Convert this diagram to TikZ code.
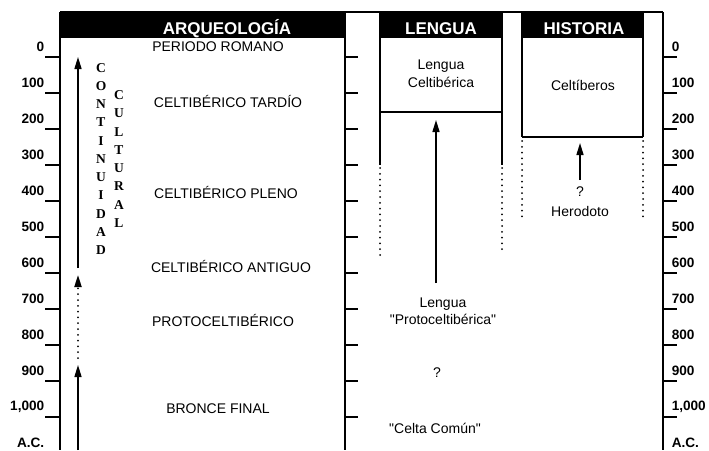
\documentclass[tikz,border=0pt]{standalone}
\usepackage{fontspec}
\setmainfont{Liberation Sans}
\newfontfamily\timesbold{Liberation Serif}
\usetikzlibrary{arrows.meta,positioning}

\newcommand\straightq{{\XeTeXglyph\XeTeXglyphindex "quotedbl"\relax}}

\begin{document}
\begin{tikzpicture}[x=1pt,y=-1pt,line width=1.5pt,>={Triangle[length=12pt,width=7pt]},
    lbl/.style={font=\fontsize{14}{17.5}\selectfont,inner sep=0pt,align=center},
    yearlbl/.style={font=\bfseries\fontsize{13.6}{16}\selectfont,inner sep=0pt},
    headlbl/.style={text=white,font=\bfseries\fontsize{17}{19}\selectfont,anchor=base},
    vert/.style={font=\timesbold\bfseries\fontsize{13.5}{18.25}\selectfont,align=center,inner sep=0pt},
    dots/.style={line width=2pt,dash pattern=on 0pt off 5.8pt,line cap=round}]
                \useasboundingbox (0,0) rectangle (709,450);

                % cabeceras
                \fill (60,12) rectangle (345,38);
                \fill (380,12) rectangle (502,38);
                \fill (522,12) rectangle (643,38);
                \node[headlbl] (arq) at (227,34) {ARQUEOLOGÍA};
                \node[headlbl] (len) at (441,34) {LENGUA};
                \node[headlbl] (his) at (584,34) {HISTORIA};

                % marco y ejes
                \draw (60,12) -- (663,12);
                \draw (60,12) -- (60,450);
                \draw (345,12) -- (345,450);
                \draw (663,12) -- (663,450);
                \draw (380,12) -- (380,165) (502,12) -- (502,165) (380,112) -- (502,112);
                \draw (522,12) -- (522,137) (643,12) -- (643,137) (522,137) -- (643,137);
                \draw[dots] (380,168) -- (380,258) (502,168) -- (502,252);
                \draw[dots] (522,141) -- (522,222) (643,141) -- (643,222);

                \foreach \i in {0,...,10} {
                    \draw (45,{57+36*\i}) -- (60,{57+36*\i});
                    \draw (345,{57+36*\i}) -- (358,{57+36*\i});
                    \draw (663,{57+36*\i}) -- (677,{57+36*\i});
                }
                \foreach \v [count=\i from 0] in {0,100,...,900,{1,000},A.C.} {
                    \node[yearlbl,anchor=east] (izq\i) at (45,{47+36*\i}) {\v};
                    \node[yearlbl,anchor=west] (der\i) at (671,{47+36*\i}) {\v};
                }

                % arqueologia
                \node[lbl] (rom)  at (218,47)  {PERIODO ROMANO};
                \node[lbl] (tard) at (228,101) {CELTIBÉRICO TARDÍO};
                \node[lbl] (plen) at (226,192) {CELTIBÉRICO PLENO};
                \node[lbl] (anti) at (231,266) {CELTIBÉRICO ANTIGUO};
                \node[lbl] (prot) at (223,320) {PROTOCELTIBÉRICO};
                \node[lbl] (bron) at (218,409) {BRONCE FINAL};
                \node[vert] (cont) at (101,159) {C\\O\\N\\T\\I\\N\\U\\I\\D\\A\\D};
                \node[vert] (cult) at (119,159) {C\\U\\L\\T\\U\\R\\A\\L};

                % lengua
                \node[lbl] (celtib) at (441,74)  {Lengua\\Celtibérica};
                \node[lbl] (protol) at (443,311) {Lengua\\\straightq Protoceltibérica\straightq};
                \node[lbl] (dud)    at (437,373) {?};
                \node[lbl] (comun)  at (435,428) {\straightq Celta Común\straightq};

                % historia
                \node[lbl] (celtiberos) at (583,85) {Celtíberos};
                \node[lbl,font=\fontsize{14}{20}\selectfont] (hero) at (580,202) {?\\Herodoto};

                \coordinate (c1) at (78,57);
                \coordinate (c2) at (78,268);
                \coordinate (c3) at (78,275);
                \coordinate (c4) at (78,358);
                \coordinate (c5) at (78,365);
                \coordinate (c6) at (78,450);
                \coordinate (l1) at (436,120);
                \coordinate (l2) at (436,283);
                \coordinate (h1) at (580,143);
                \coordinate (h2) at (580,180);

                \path[->]
                (c2) edge (c1)
                (c4) edge [dots] (c3)
                (c6) edge (c5)
                (l2) edge (l1)
                (h2) edge (h1);

            \end{tikzpicture}
\end{document}
